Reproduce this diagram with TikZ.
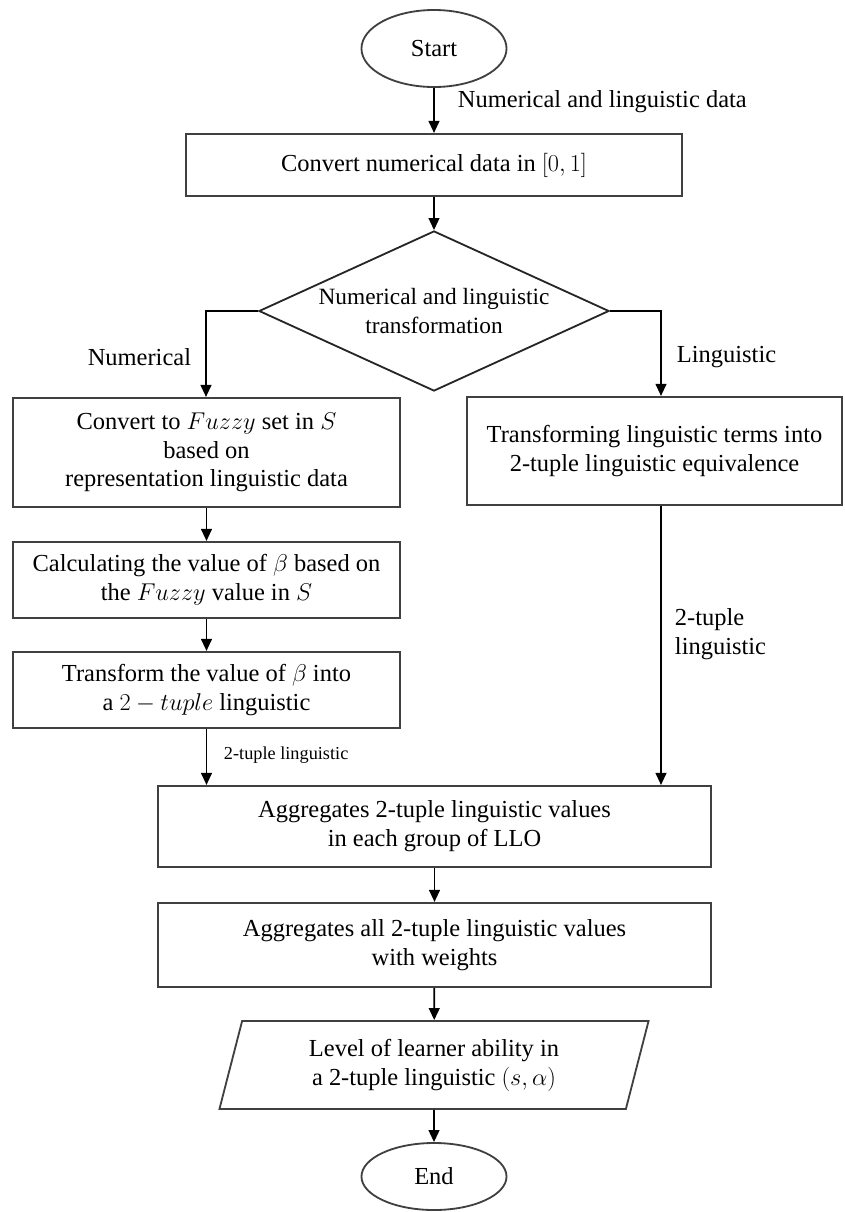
\documentclass[tikz,border=0pt]{standalone}
\usepackage{fontspec}
\setmainfont{Liberation Serif}
\usetikzlibrary{shapes.geometric,arrows.meta}
\begin{document}
\begin{tikzpicture}[x=0.025cm,y=-0.025cm,
		every node/.style={font=\fontsize{17.4}{20.5}\selectfont},
		terminal/.style={ellipse,draw=black!75,line width=1.3pt,minimum width=3.625cm},
		procbox/.style={rectangle,draw=black!75,line width=1.5pt,align=center,inner sep=2pt},
		decision/.style={diamond,aspect=2.1875,draw=black!85,line width=1.3pt,align=center,inner sep=-0.25cm,minimum width=8.75cm,minimum height=4cm,font=\fontsize{16.6}{20.5}\selectfont},
		iobox/.style={trapezium,trapezium left angle=76,trapezium right angle=104,trapezium stretches=true,draw=black!75,line width=1.3pt,align=center,minimum width=10.75cm,minimum height=2.2cm},
		flow/.style={-{Triangle[length=0.3cm,width=0.27cm]},line width=1.2pt},
		smalllabel/.style={font=\fontsize{13}{15}\selectfont}]
	\useasboundingbox (0,0) rectangle (844,1212);
	\node[terminal,minimum height=1.925cm] (start) at (434,48.5) {Start};
	\node[procbox,minimum width=12.4cm,minimum height=1.55cm] (conv) at (434,165) {Convert numerical data in $[0,1]$};
	\node[decision] (dia) at (434,311) {Numerical and linguistic\\transformation};
	\node[procbox,minimum width=9.675cm,minimum height=2.725cm] (fuzzy) at (206.5,452.5) {Convert to $Fuzzy$ set in $S$\\based on\\representation linguistic data};
	\node[procbox,minimum width=9.675cm,minimum height=1.9cm] (beta) at (206.5,580) {Calculating the value of $\beta$ based on\\the $Fuzzy$ value in $S$};
	\node[procbox,minimum width=9.675cm,minimum height=1.9cm] (tuple) at (206.5,690) {Transform the value of $\beta$ into\\a $2-tuple$ linguistic};
	\node[procbox,minimum width=9.375cm,minimum height=2.7cm] (ling) at (654.5,451) {Transforming linguistic terms into\\2-tuple linguistic equivalence};
	\node[procbox,minimum width=13.825cm,minimum height=2.025cm] (aggroup) at (434.5,826.5) {Aggregates 2-tuple linguistic values\\in each group of LLO};
	\node[procbox,minimum width=13.825cm,minimum height=2.1cm] (aggall) at (434.5,945) {Aggregates all 2-tuple linguistic values\\with weights};
	\node[iobox] (level) at (434,1065) {Level of learner ability in\\a 2-tuple linguistic $(s,\alpha)$};
	\node[terminal,minimum height=1.675cm] (stop) at (434,1176.5) {End};
	\coordinate (lturn) at (206,311);
	\coordinate (rturn) at (661,311);
	\node[anchor=west] (datalbl) at (453,102) {Numerical and linguistic data};
	\node[anchor=east] (numlbl) at (196,357) {Numerical};
	\node[anchor=west] (linglbl) at (672,357) {Linguistic};
	\node[smalllabel,anchor=west] (tuplelbl) at (219,755) {2-tuple linguistic};
	\node[anchor=west,align=left] (rtuplelbl) at (670,634) {2-tuple\\linguistic};
	\draw[flow] (start) -- (conv);
	\draw[flow] (conv) -- (dia);
	\draw[flow] (dia.west) -- (lturn) -- (lturn |- fuzzy.north);
	\draw[flow] (dia.east) -- (rturn) -- (rturn |- ling.north);
	\draw[flow] (fuzzy) -- (beta);
	\draw[flow] (beta) -- (tuple);
	\draw[flow] (tuple.south) -- (tuple.south |- aggroup.north);
	\draw[flow] (rturn |- ling.south) -- (rturn |- aggroup.north);
	\draw[flow] (aggroup) -- (aggall);
	\draw[flow] (aggall) -- (level);
	\draw[flow] (level) -- (stop);
\end{tikzpicture}
\end{document}
